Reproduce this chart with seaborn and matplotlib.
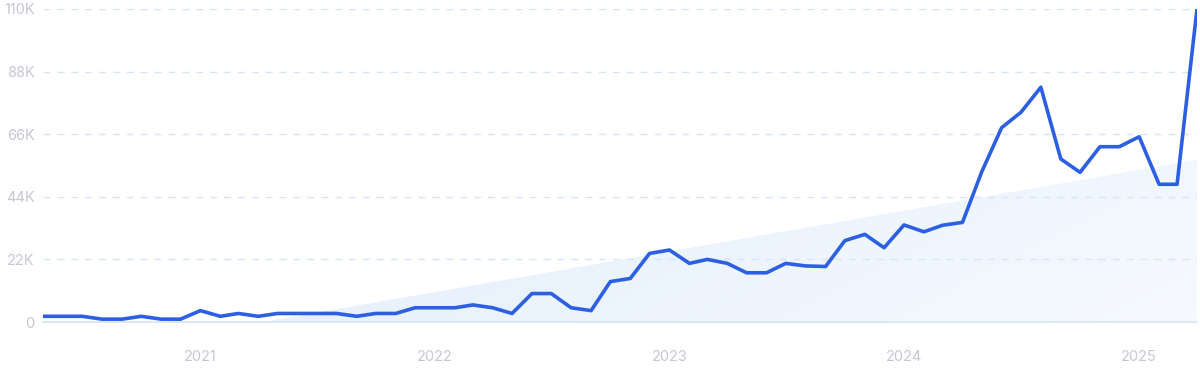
import numpy as np
import pandas as pd
import matplotlib
matplotlib.use("Agg")
import matplotlib.pyplot as plt
import matplotlib.dates as mdates
from matplotlib.ticker import FixedLocator, FuncFormatter
import seaborn as sns

# ---- data ----
start_month = "2020-05-01"
values_k = [2, 2, 2, 1, 1, 2, 1, 1,            # May-Dec 2020
            4, 2, 3, 2, 3, 3, 3, 3, 2, 3, 3, 5,  # 2021
            5, 5, 6, 5, 3, 10, 10, 5, 4, 14.2, 15.3, 24.1,  # 2022
            25.3, 20.6, 22, 20.6, 17.3, 17.3, 20.6, 19.7, 19.5, 28.6, 30.8, 26.1,  # 2023
            34.1, 31.7, 34, 35, 52.8, 68.3, 73.7, 82.5, 57.3, 52.6, 61.6, 61.6,  # 2024
            65.1, 48.4, 48.4, 110]  # 2025
trend_dates = ["2021-04-08", "2025-04-01"]
trend_values_k = [0, 57]
y_ticks_k = [0, 22, 44, 66, 88, 110]
year_ticks = ["2021", "2022", "2023", "2024", "2025"]

dates = pd.date_range(start_month, periods=len(values_k), freq="MS")
df = pd.DataFrame({"date": dates, "value": np.array(values_k) * 1000})

sns.set_theme(style="white")
plt.rcParams["font.family"] = ["Inter", "DejaVu Sans"]

fig = plt.figure(figsize=(12, 3.71), dpi=100)
ax = fig.add_axes([43 / 1200, 49 / 371, (1197 - 43) / 1200, (322 - 9) / 371])

# trend gradient fill
tx = mdates.date2num(pd.to_datetime(trend_dates))
ty = np.array(trend_values_k) * 1000
poly = ax.fill_between(tx, 0, ty, color="none", lw=0, zorder=1)
gx = np.linspace(0, 1, 300)
gy = np.linspace(0, 1, 100)
GX, GY = np.meshgrid(gx, gy)
strength = np.clip(1.0 - 0.75 * GX - 0.25 * (1 - GY), 0, 1)
rgba = np.zeros(GX.shape + (4,))
rgba[..., 0] = 0.89
rgba[..., 1] = 0.935
rgba[..., 2] = 0.99
rgba[..., 3] = 0.3 + 0.7 * strength
im = ax.imshow(rgba, extent=[tx[0], tx[1], 0, ty.max()], origin="lower",
               aspect="auto", zorder=1, interpolation="bilinear")
im.set_clip_path(poly.get_paths()[0], transform=ax.transData)

# gridlines
for yk in y_ticks_k[1:]:
    ax.axhline(yk * 1000, color="#d6e5f9", lw=1, ls=(0, (5, 5)), zorder=2)

sns.lineplot(data=df, x="date", y="value", ax=ax, color="#2d5fe3",
             linewidth=2.6, zorder=3)

ax.set_xlim(dates[0], dates[-1])
ax.set_ylim(0, 110000)
ax.set_xlabel("")
ax.set_ylabel("")
ax.yaxis.set_major_locator(FixedLocator([v * 1000 for v in y_ticks_k]))
ax.yaxis.set_major_formatter(FuncFormatter(lambda v, p: "0" if v == 0 else f"{int(round(v / 1000))}K"))
ax.set_xticks(mdates.date2num(pd.to_datetime([f"{y}-01-01" for y in year_ticks])))
ax.set_xticklabels(year_ticks)
ax.tick_params(axis="both", length=0, labelsize=10.5, labelcolor="#c6c8d1")
ax.tick_params(axis="y", pad=6)
ax.tick_params(axis="x", pad=20)
for s in ["top", "right", "left"]:
    ax.spines[s].set_visible(False)
ax.spines["bottom"].set_color("#d3e5f8")
ax.spines["bottom"].set_linewidth(1.2)
ax.set_facecolor("white")
ax.grid(False)

fig.savefig("out.png", dpi=100, facecolor="white")
